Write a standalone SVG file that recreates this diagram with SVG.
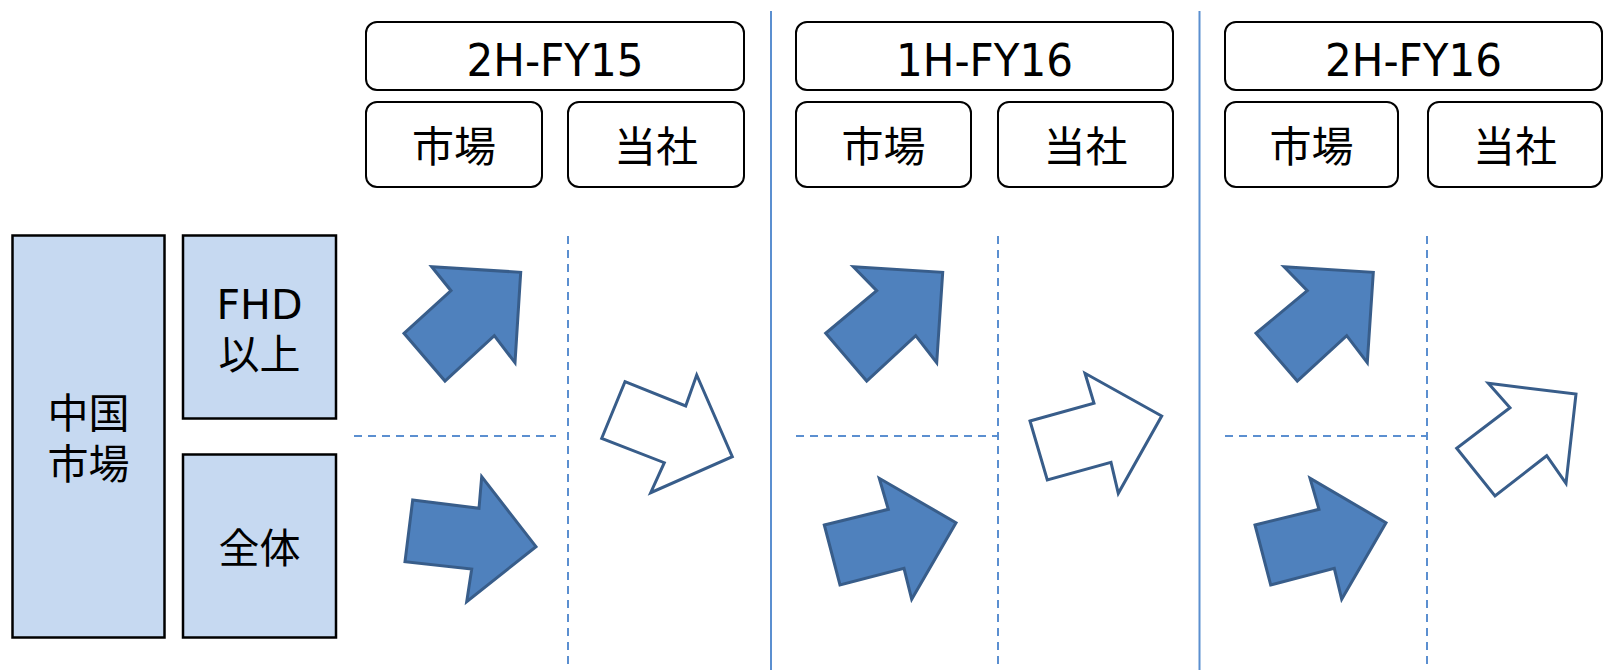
<svg xmlns="http://www.w3.org/2000/svg" width="1614" height="670" viewBox="0 0 1614 670">
<style>
  .hdr { fill: #ffffff; stroke: #000000; stroke-width: 2; }
  .cat { fill: #c6d9f1; stroke: #000000; stroke-width: 2.5; }
  .t { font-family: "DejaVu Sans", "Noto Sans CJK JP", sans-serif; fill: #000000; text-anchor: middle; }
  .th { font-size: 42px; }
  .tp { font-size: 44px; }
  .tl { font-size: 41px; }
  .sep { stroke: #5b8fd0; stroke-width: 2; fill: none; }
  .dash { stroke: #5b8fd0; stroke-width: 2; stroke-dasharray: 8 6; fill: none; }
  .af { fill: #4f81bd; stroke: #385d8a; stroke-width: 3; stroke-linejoin: miter; }
  .ah { fill: #ffffff; stroke: #385d8a; stroke-width: 3; stroke-linejoin: miter; }
</style>

<g id="dividers">
  <line class="sep" x1="771" y1="11" x2="771" y2="670"/>
  <line class="sep" x1="1199.5" y1="11" x2="1199.5" y2="670"/>
  <line class="dash" x1="568" y1="236" x2="568" y2="670"/>
  <line class="dash" x1="354" y1="436" x2="556" y2="436"/>
  <line class="dash" x1="998" y1="236" x2="998" y2="670"/>
  <line class="dash" x1="796" y1="436" x2="998" y2="436"/>
  <line class="dash" x1="1427" y1="236" x2="1427" y2="670"/>
  <line class="dash" x1="1225" y1="436" x2="1427" y2="436"/>
</g>

<g id="period-2H-FY15">
  <rect class="hdr" x="366" y="22" width="378" height="68" rx="11"/>
  <text class="t tp" x="555" y="76" textLength="177" lengthAdjust="spacingAndGlyphs">2H-FY15</text>
  <rect class="hdr" x="366" y="102" width="176" height="85" rx="11"/>
  <text class="t th" x="454" y="162">市場</text>
  <rect class="hdr" x="568" y="102" width="176" height="85" rx="11"/>
  <text class="t th" x="656" y="162">当社</text>
</g>
<g id="period-1H-FY16">
  <rect class="hdr" x="796" y="22" width="377" height="68" rx="11"/>
  <text class="t tp" x="984.5" y="76" textLength="177" lengthAdjust="spacingAndGlyphs">1H-FY16</text>
  <rect class="hdr" x="796" y="102" width="175" height="85" rx="11"/>
  <text class="t th" x="883.5" y="162">市場</text>
  <rect class="hdr" x="998" y="102" width="175" height="85" rx="11"/>
  <text class="t th" x="1085.5" y="162">当社</text>
</g>
<g id="period-2H-FY16">
  <rect class="hdr" x="1225" y="22" width="377" height="68" rx="11"/>
  <text class="t tp" x="1413.5" y="76" textLength="177" lengthAdjust="spacingAndGlyphs">2H-FY16</text>
  <rect class="hdr" x="1225" y="102" width="173" height="85" rx="11"/>
  <text class="t th" x="1311.5" y="162">市場</text>
  <rect class="hdr" x="1428" y="102" width="174" height="85" rx="11"/>
  <text class="t th" x="1515" y="162">当社</text>
</g>

<g id="china-market">
  <rect class="cat" x="12.5" y="235.5" width="152" height="402"/>
  <text class="t tl" x="88.5" y="428">中国</text>
  <text class="t tl" x="88.5" y="479">市場</text>
</g>
<g id="fhd">
  <rect class="cat" x="183" y="235.5" width="153" height="183"/>
  <text class="t tl" x="259.5" y="319">FHD</text>
  <text class="t tl" x="259.5" y="369">以上</text>
</g>
<g id="overall">
  <rect class="cat" x="183" y="454.5" width="153" height="183"/>
  <text class="t tl" x="259.5" y="563">全体</text>
</g>

<g id="arrows">
  <polygon class="af" points="431.7,266.7 451,290.7 404,333.3 445,381 494.3,335.7 515,362.7 520.7,272.3"/>
  <polygon class="af" points="412.7,500 479,508.3 481.7,476.7 536,546.7 466.7,601.7 471.7,569 405,561.7"/>
  <polygon class="ah" points="625,381.7 685.7,406 696.7,375 732.3,456.7 650.7,492.7 664.3,462.7 601.7,438.3"/>

  <polygon class="af" points="853.3,266.7 876.7,290.7 825.7,333.3 866.7,381 915.7,335.7 936.7,362.7 942.7,272.3"/>
  <polygon class="af" points="824.3,525 888.3,509.3 879.3,478.3 956,522.7 911.7,599.3 904,568.3 840,585"/>
  <polygon class="ah" points="1030,421 1094,403.3 1085,373.3 1161.7,416 1118.3,493.3 1111,462.3 1047.3,480"/>

  <polygon class="af" points="1284,266.7 1307.3,290.7 1256,333.3 1297.3,381 1346.7,335.7 1367.3,362.7 1373.3,272.3"/>
  <polygon class="af" points="1255,525 1319,509.3 1310,478.3 1386,522.7 1341.7,599.3 1334.3,568.3 1270.7,585"/>
  <polygon class="ah" points="1488.3,383.3 1576,394 1566,483.3 1546.7,455.7 1495,496 1456.7,448.3 1510,407.7"/>
</g>
</svg>
